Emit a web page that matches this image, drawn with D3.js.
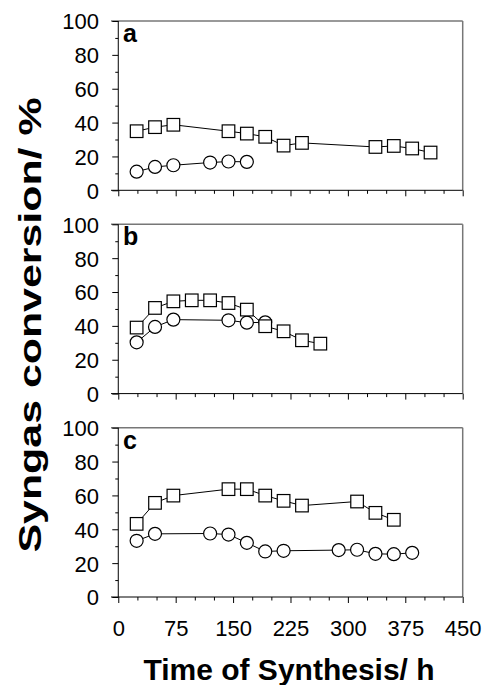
<!DOCTYPE html>
<html>
<head>
<meta charset="utf-8">
<script src="https://cdn.jsdelivr.net/npm/d3@7"></script>
<style>
  html, body { margin: 0; padding: 0; background: #fff; }
  svg { display: block; font-family: Arial, "Liberation Sans", sans-serif; }
</style>
</head>
<body>
<svg id="chart" width="484" height="685"></svg>
<script>
// ---- data ----
const panelLabels = ["a", "b", "c"];
const xTicks = [0, 75, 150, 225, 300, 375, 450];
const yTicks = [0, 20, 40, 60, 80, 100];

const aTimeSq = [24, 48, 72, 144, 168, 192, 216, 240, 336, 360, 384, 408];
const aSq     = [34.9, 37.3, 38.7, 34.9, 33.5, 31.6, 26.4, 28.0, 25.6, 26.2, 24.7, 22.3];
const aTimeCi = [24, 48, 72, 120, 144, 168];
const aCi     = [11.0, 13.8, 14.8, 16.4, 17.0, 16.8];

const bTimeSq = [24, 48, 72, 96, 120, 144, 168, 192, 216, 240, 264];
const bSq     = [39.0, 50.6, 54.5, 55.1, 55.1, 53.5, 49.6, 39.8, 36.8, 31.5, 29.5];
const bTimeCi = [24, 48, 72, 144, 168, 192];
const bCi     = [30.3, 39.4, 43.7, 43.3, 41.9, 42.1];

const cTimeSq = [24, 48, 72, 144, 168, 192, 216, 240, 312, 336, 360];
const cSq     = [43.2, 55.6, 59.9, 63.7, 63.7, 59.9, 56.8, 54.0, 56.4, 49.7, 45.6];
const cTimeCi = [24, 48, 120, 144, 168, 192, 216, 288, 312, 336, 360, 384];
const cCi     = [33.2, 37.3, 37.5, 36.9, 32.0, 26.9, 27.3, 27.7, 27.9, 25.5, 25.3, 26.1];

const panels = [
  { label: panelLabels[0], sqT: aTimeSq, sq: aSq, ciT: aTimeCi, ci: aCi },
  { label: panelLabels[1], sqT: bTimeSq, sq: bSq, ciT: bTimeCi, ci: bCi },
  { label: panelLabels[2], sqT: cTimeSq, sq: cSq, ciT: cTimeCi, ci: cCi }
];

// ---- layout ----
const svg = d3.select("#chart");
const left = 111, right = 462.7;
const panelTops = [21, 224.3, 427.7];
const panelH = 169.3;
const x = d3.scaleLinear().domain([-9.5, 450]).range([left, right]);
const tickFont = 22;

panels.forEach((p, i) => {
  const top = panelTops[i];
  const y = d3.scaleLinear().domain([0, 100]).range([top + panelH, top]);
  const g = svg.append("g");

  // frame top and right (gray)
  g.append("line").attr("x1", left).attr("x2", right).attr("y1", top).attr("y2", top)
    .attr("stroke", "#777").attr("stroke-width", 1.5);
  g.append("line").attr("x1", right).attr("x2", right).attr("y1", top).attr("y2", top + panelH)
    .attr("stroke", "#777").attr("stroke-width", 1.5);

  // bottom axis
  const xAxis = d3.axisBottom(x).tickValues(d3.range(0, 451, 25)).tickSize(0).tickFormat("");
  const xg = g.append("g").attr("transform", `translate(0,${top + panelH})`).call(xAxis);
  xg.select(".domain").remove();
  xg.selectAll(".tick line").attr("y2", d => (d % 75 === 0 ? 6 : 3.5)).attr("stroke", "#000");
  g.append("line").attr("x1", left).attr("x2", right).attr("y1", top + panelH).attr("y2", top + panelH)
    .attr("stroke", "#000").attr("stroke-width", 1);
  if (i === 2) {
    xg.selectAll(".tick text").remove();
    const xl = d3.axisBottom(x).tickValues(xTicks).tickSize(0).tickPadding(0);
    const xlg = g.append("g").attr("transform", `translate(0,${top + panelH})`).call(xl);
    xlg.select(".domain").remove();
    xlg.selectAll(".tick text").attr("y", 0).attr("dy", 0)
      .attr("transform", "translate(0,39)")
      .attr("font-size", tickFont).attr("font-family", "Arial, 'Liberation Sans', sans-serif")
      .attr("fill", "#000");
  }

  // left axis at x = 0
  const yAxis = d3.axisLeft(y).tickValues(d3.range(0, 101, 10)).tickSize(0).tickFormat("");
  const yg = g.append("g").attr("transform", `translate(${x(0)},0)`).call(yAxis);
  yg.select(".domain").remove();
  yg.selectAll(".tick line").attr("x2", d => (d % 20 === 0 ? -6 : -3)).attr("stroke", "#000");
  g.append("line").attr("x1", x(0)).attr("x2", x(0)).attr("y1", top).attr("y2", top + panelH)
    .attr("stroke", "#000").attr("stroke-width", 1);
  const yl = d3.axisLeft(y).tickValues(yTicks).tickSize(0).tickPadding(0);
  const ylg = g.append("g").attr("transform", `translate(99,0)`).call(yl);
  ylg.select(".domain").remove();
  ylg.selectAll(".tick text").attr("x", 0).attr("dy", "0.36em")
    .attr("font-size", tickFont).attr("font-family", "Arial, 'Liberation Sans', sans-serif")
    .attr("fill", "#000");

  // panel label
  g.append("text").attr("x", 123).attr("y", top + 21).text(p.label)
    .attr("font-size", 25).attr("font-weight", "bold").attr("fill", "#000");

  const line = d3.line().x(d => x(d[0])).y(d => y(d[1]));
  const ciData = p.ciT.map((t, k) => [t, p.ci[k]]);
  const sqData = p.sqT.map((t, k) => [t, p.sq[k]]);

  g.append("path").datum(ciData).attr("d", line).attr("fill", "none").attr("stroke", "#000").attr("stroke-width", 1);
  g.selectAll(".ci").data(ciData).enter().append("circle")
    .attr("cx", d => x(d[0])).attr("cy", d => y(d[1])).attr("r", 6.5)
    .attr("fill", "#fff").attr("stroke", "#000").attr("stroke-width", 1.2);

  g.append("path").datum(sqData).attr("d", line).attr("fill", "none").attr("stroke", "#000").attr("stroke-width", 1);
  const s = 12.6;
  g.selectAll(".sq").data(sqData).enter().append("rect")
    .attr("x", d => x(d[0]) - s / 2).attr("y", d => y(d[1]) - s / 2)
    .attr("width", s).attr("height", s)
    .attr("fill", "#fff").attr("stroke", "#000").attr("stroke-width", 1.2);
});

// axis titles
svg.append("text").attr("x", 289).attr("y", 680).attr("text-anchor", "middle")
  .attr("font-size", 30).attr("font-weight", "bold").attr("fill", "#000")
  .text("Time of Synthesis/ h");
svg.append("text").attr("transform", "translate(41,325) rotate(-90)").attr("text-anchor", "middle")
  .attr("font-size", 31).attr("font-weight", "bold").attr("fill", "#000")
  .attr("textLength", 455).attr("lengthAdjust", "spacingAndGlyphs")
  .text("Syngas conversion/ %");
</script>
</body>
</html>
